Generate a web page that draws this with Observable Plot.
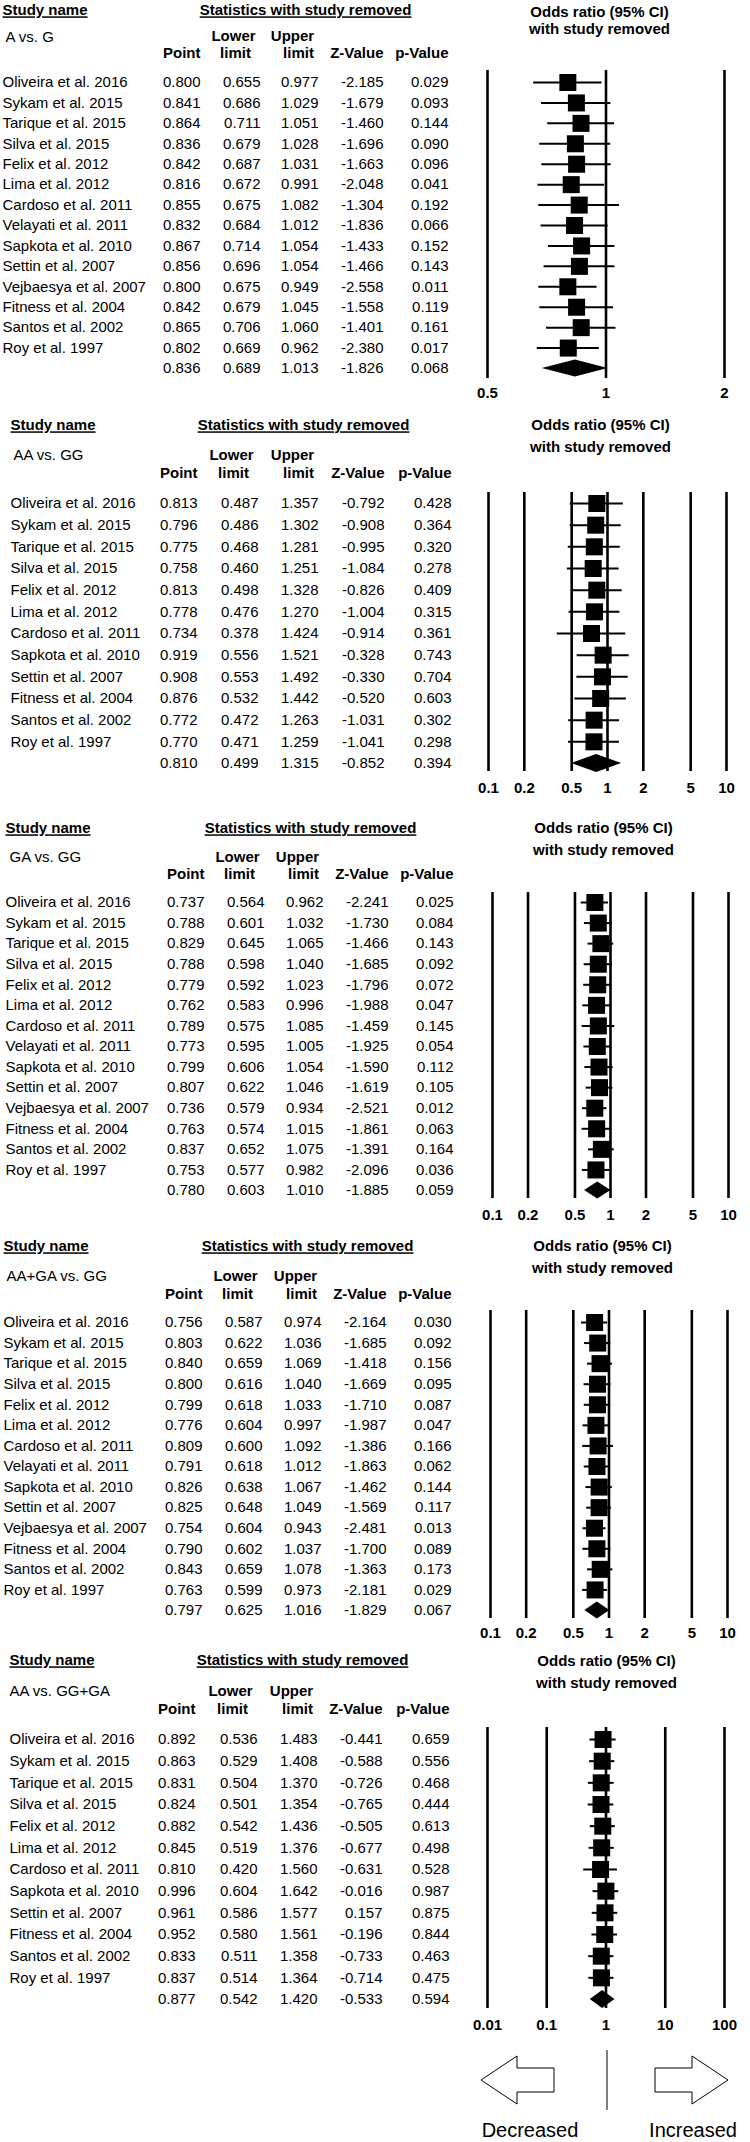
<!DOCTYPE html>
<html><head><meta charset="utf-8">
<script src="https://cdn.jsdelivr.net/npm/d3@7"></script>
<script src="https://cdn.jsdelivr.net/npm/@observablehq/plot@0.6"></script>
<style>
body{margin:0;background:#fff;}
#chart{width:750px;}
#chart svg{display:block;}
</style></head><body><div id="chart"></div>
<script>
// ---------- DATA ----------
const studies14 = ["Oliveira et al. 2016","Sykam et al. 2015","Tarique et al. 2015","Silva et al. 2015","Felix et al. 2012","Lima et al. 2012","Cardoso et al. 2011","Velayati et al. 2011","Sapkota et al. 2010","Settin et al. 2007","Vejbaesya et al. 2007","Fitness et al. 2004","Santos et al. 2002","Roy et al. 1997"];
const studies12 = ["Oliveira et al. 2016","Sykam et al. 2015","Tarique et al. 2015","Silva et al. 2015","Felix et al. 2012","Lima et al. 2012","Cardoso et al. 2011","Sapkota et al. 2010","Settin et al. 2007","Fitness et al. 2004","Santos et al. 2002","Roy et al. 1997"];

// A vs. G
const pointAG = [0.800,0.841,0.864,0.836,0.842,0.816,0.855,0.832,0.867,0.856,0.800,0.842,0.865,0.802];
const lowerAG = [0.655,0.686,0.711,0.679,0.687,0.672,0.675,0.684,0.714,0.696,0.675,0.679,0.706,0.669];
const upperAG = [0.977,1.029,1.051,1.028,1.031,0.991,1.082,1.012,1.054,1.054,0.949,1.045,1.060,0.962];
const zAG = [-2.185,-1.679,-1.460,-1.696,-1.663,-2.048,-1.304,-1.836,-1.433,-1.466,-2.558,-1.558,-1.401,-2.380];
const pAG = [0.029,0.093,0.144,0.090,0.096,0.041,0.192,0.066,0.152,0.143,0.011,0.119,0.161,0.017];
const summaryAG = [0.836,0.689,1.013,-1.826,0.068];

// AA vs. GG
const pointAAGG = [0.813,0.796,0.775,0.758,0.813,0.778,0.734,0.919,0.908,0.876,0.772,0.770];
const lowerAAGG = [0.487,0.486,0.468,0.460,0.498,0.476,0.378,0.556,0.553,0.532,0.472,0.471];
const upperAAGG = [1.357,1.302,1.281,1.251,1.328,1.270,1.424,1.521,1.492,1.442,1.263,1.259];
const zAAGG = [-0.792,-0.908,-0.995,-1.084,-0.826,-1.004,-0.914,-0.328,-0.330,-0.520,-1.031,-1.041];
const pAAGG = [0.428,0.364,0.320,0.278,0.409,0.315,0.361,0.743,0.704,0.603,0.302,0.298];
const summaryAAGG = [0.810,0.499,1.315,-0.852,0.394];

// GA vs. GG
const pointGAGG = [0.737,0.788,0.829,0.788,0.779,0.762,0.789,0.773,0.799,0.807,0.736,0.763,0.837,0.753];
const lowerGAGG = [0.564,0.601,0.645,0.598,0.592,0.583,0.575,0.595,0.606,0.622,0.579,0.574,0.652,0.577];
const upperGAGG = [0.962,1.032,1.065,1.040,1.023,0.996,1.085,1.005,1.054,1.046,0.934,1.015,1.075,0.982];
const zGAGG = [-2.241,-1.730,-1.466,-1.685,-1.796,-1.988,-1.459,-1.925,-1.590,-1.619,-2.521,-1.861,-1.391,-2.096];
const pGAGG = [0.025,0.084,0.143,0.092,0.072,0.047,0.145,0.054,0.112,0.105,0.012,0.063,0.164,0.036];
const summaryGAGG = [0.780,0.603,1.010,-1.885,0.059];

// AA+GA vs. GG
const pointDom = [0.756,0.803,0.840,0.800,0.799,0.776,0.809,0.791,0.826,0.825,0.754,0.790,0.843,0.763];
const lowerDom = [0.587,0.622,0.659,0.616,0.618,0.604,0.600,0.618,0.638,0.648,0.604,0.602,0.659,0.599];
const upperDom = [0.974,1.036,1.069,1.040,1.033,0.997,1.092,1.012,1.067,1.049,0.943,1.037,1.078,0.973];
const zDom = [-2.164,-1.685,-1.418,-1.669,-1.710,-1.987,-1.386,-1.863,-1.462,-1.569,-2.481,-1.700,-1.363,-2.181];
const pDom = [0.030,0.092,0.156,0.095,0.087,0.047,0.166,0.062,0.144,0.117,0.013,0.089,0.173,0.029];
const summaryDom = [0.797,0.625,1.016,-1.829,0.067];

// AA vs. GG+GA
const pointRec = [0.892,0.863,0.831,0.824,0.882,0.845,0.810,0.996,0.961,0.952,0.833,0.837];
const lowerRec = [0.536,0.529,0.504,0.501,0.542,0.519,0.420,0.604,0.586,0.580,0.511,0.514];
const upperRec = [1.483,1.408,1.370,1.354,1.436,1.376,1.560,1.642,1.577,1.561,1.358,1.364];
const zRec = [-0.441,-0.588,-0.726,-0.765,-0.505,-0.677,-0.631,-0.016,0.157,-0.196,-0.733,-0.714];
const pRec = [0.659,0.556,0.468,0.444,0.613,0.498,0.528,0.987,0.875,0.844,0.463,0.475];
const summaryRec = [0.877,0.542,1.420,-0.533,0.594];

// tick values and labels
const ticksA = [0.5, 1, 2];
const tickLabelsA = ["0.5","1","2"];
const ticksB = [0.1, 0.2, 0.5, 1, 2, 5, 10];
const tickLabelsB = ["0.1","0.2","0.5","1","2","5","10"];
const ticksC = [0.01, 0.1, 1, 10, 100];
const tickLabelsC = ["0.01","0.1","1","10","100"];

const comparisons = ["A vs. G","AA vs. GG","GA vs. GG","AA+GA vs. GG","AA vs. GG+GA"];
const colHeader1 = ["","Lower","Upper","",""];
const colHeader2 = ["Point","limit","limit","Z-Value","p-Value"];

// ---------- LAYOUT ----------
const FONT = "'Liberation Sans', Arial, Helvetica, sans-serif";
const panels = [
  {label:comparisons[0], names:studies14, point:pointAG, lower:lowerAG, upper:upperAG, z:zAG, p:pAG, sum:summaryAG, ticks:ticksA, tickLabels:tickLabelsA,
   L:{height:410, nameX:2, hdrY:10, compX:5, compY:37, row1Y:36, row2Y:53, y0:82, y1:368, cols:[200,260,318,383,448], statsX:305, orX:599, orY:12, orY2:29, lineTop:70, lineBottom:378, tickY:393, range:[487,724]}},
  {label:comparisons[1], names:studies12, point:pointAAGG, lower:lowerAAGG, upper:upperAAGG, z:zAAGG, p:pAAGG, sum:summaryAAGG, ticks:ticksB, tickLabels:tickLabelsB,
   L:{height:405, nameX:10, hdrY:15, compX:13, compY:45, row1Y:45, row2Y:63, y0:93, y1:353, cols:[197,258,318,384,451], statsX:303, orX:600, orY:15, orY2:37, lineTop:82, lineBottom:361, tickY:378, range:[488,726]}},
  {label:comparisons[2], names:studies14, point:pointGAGG, lower:lowerGAGG, upper:upperGAGG, z:zGAGG, p:pGAGG, sum:summaryGAGG, ticks:ticksB, tickLabels:tickLabelsB,
   L:{height:410, nameX:5, hdrY:13, compX:9, compY:42, row1Y:42, row2Y:59, y0:87, y1:375, cols:[204,264,323,388,453], statsX:310, orX:603, orY:13, orY2:35, lineTop:77, lineBottom:383, tickY:400, range:[492,728]}},
  {label:comparisons[3], names:studies14, point:pointDom, lower:lowerDom, upper:upperDom, z:zDom, p:pDom, sum:summaryDom, ticks:ticksB, tickLabels:tickLabelsB,
   L:{height:415, nameX:3, hdrY:21, compX:6, compY:51, row1Y:51, row2Y:69, y0:97, y1:385, cols:[202,262,321,386,451], statsX:307, orX:602, orY:21, orY2:43, lineTop:85, lineBottom:393, tickY:408, range:[490,727]}},
  {label:comparisons[4], names:studies12, point:pointRec, lower:lowerRec, upper:upperRec, z:zRec, p:pRec, sum:summaryRec, ticks:ticksC, tickLabels:tickLabelsC,
   L:{height:502, nameX:9, hdrY:20, compX:9, compY:51, row1Y:51, row2Y:69, y0:99, y1:359, cols:[195,257,317,382,449], statsX:302, orX:606, orY:21, orY2:43, lineTop:87, lineBottom:368, tickY:385, range:[487,724], footer:true}}
];

const fmt = v => v.toFixed(3);
const colKeys = ["point","lower","upper","z","p"];
const hdr1Offset = [0,-27,-26,0,0];
const hdr2Offset = [0,-25,-20,0,0];

function makePanel(d) {
  const L = d.L;
  const rows = d.names.map((name,i)=>({i, name, point:d.point[i], lower:d.lower[i], upper:d.upper[i], z:d.z[i], p:d.p[i]}));
  const n = rows.length;
  const s = {i:n, name:"", point:d.sum[0], lower:d.sum[1], upper:d.sum[2], z:d.sum[3], p:d.sum[4]};
  const all = rows.concat([s]);
  const dh = 0.41;
  const diamond = [
    {y:n-dh, x1:s.point, x2:s.point},
    {y:n, x1:s.lower, x2:s.upper},
    {y:n+dh, x1:s.point, x2:s.point}
  ];
  const top = L.lineTop, bottom = L.lineBottom;
  const hdr = (text, x, y, anchor, weight, size) => Plot.text([text], {
    text: t => t, frameAnchor: "top-left", dx: x, dy: y - top,
    textAnchor: anchor, fontWeight: weight || "bold", fontSize: size || 15, lineAnchor: "middle"
  });
  const marks = [
    Plot.ruleX(d.ticks, {stroke: "black", strokeWidth: 2.6}),
    Plot.text(d.ticks, {x: t => t, text: (t, i) => d.tickLabels[i], frameAnchor: "bottom", dy: L.tickY - bottom, fontWeight: "bold", fontSize: 15, lineAnchor: "middle"}),
    Plot.ruleY(rows, {y: "i", x1: "lower", x2: "upper", stroke: "black", strokeWidth: 2}),
    Plot.dot(rows, {x: "point", y: "i", symbol: "square", r: 9.6, fill: "black", stroke: "none"}),
    Plot.areaX(diamond, {y: "y", x1: "x1", x2: "x2", fill: "black"}),
    Plot.text(all, {y: "i", text: "name", frameAnchor: "left", dx: L.nameX, textAnchor: "start", fontSize: 15, lineAnchor: "middle"}),
    ...colKeys.map((c, k) => Plot.text(all, {y: "i", text: r => fmt(r[c]), frameAnchor: "left", dx: L.cols[k], textAnchor: "end", fontSize: 15, lineAnchor: "middle"})),
    hdr("Study name", L.nameX, L.hdrY, "start"),
    hdr("Statistics with study removed", L.statsX, L.hdrY, "middle"),
    hdr("Odds ratio (95% CI)", L.orX, L.orY, "middle"),
    hdr("with study removed", L.orX, L.orY2, "middle"),
    hdr(d.label, L.compX, L.compY, "start", "normal"),
    ...colHeader1.map((h, k) => h ? hdr(h, L.cols[k] + hdr1Offset[k], L.row1Y, "middle") : null).filter(Boolean),
    ...colHeader2.map((h, k) => hdr(h, L.cols[k] + hdr2Offset[k], L.row2Y, hdr2Offset[k] ? "middle" : "end"))
  ];
  const svg = Plot.plot({
    width: 750, height: L.height,
    marginTop: top, marginBottom: L.height - bottom, marginLeft: 0, marginRight: 0,
    x: {type: "log", domain: [d.ticks[0], d.ticks[d.ticks.length - 1]], range: L.range, axis: null},
    y: {type: "linear", domain: [0, n], range: [L.y0, L.y1], axis: null},
    style: {fontFamily: FONT, fontSize: "15px", background: "white", color: "black", overflow: "visible"},
    marks
  });
  d3.select(svg).selectAll("text")
    .filter(function() { return this.textContent === "Study name" || this.textContent === "Statistics with study removed"; })
    .style("text-decoration", "underline")
    .style("text-decoration-thickness", "2px")
    .style("text-decoration-color", "#333");
  if (L.footer) {
    const g = d3.select(svg).append("g").attr("fill", "white").attr("stroke", "black").attr("stroke-width", 1);
    const cy = 440;
    g.append("polygon").attr("points", [[481,cy],[517,cy-24],[517,cy-12],[554,cy-12],[554,cy+12],[517,cy+12],[517,cy+24]].join(" "));
    g.append("polygon").attr("points", [[728,cy],[692,cy-24],[692,cy-12],[655,cy-12],[655,cy+12],[692,cy+12],[692,cy+24]].join(" "));
    g.append("line").attr("x1", 607).attr("x2", 607).attr("y1", cy - 30).attr("y2", cy + 30);
    const t = d3.select(svg).append("g").attr("font-family", FONT).attr("font-size", 20).attr("fill", "black").attr("text-anchor", "middle");
    t.append("text").attr("x", 530).attr("y", 497).text("Decreased");
    t.append("text").attr("x", 693).attr("y", 497).text("Increased");
  }
  return svg;
}

const chart = document.getElementById("chart");
panels.forEach(d => chart.appendChild(makePanel(d)));
</script>
</body></html>
